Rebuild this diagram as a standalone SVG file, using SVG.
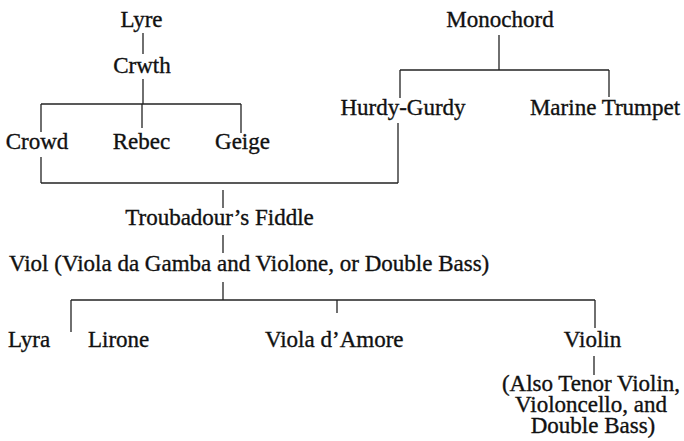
<svg xmlns="http://www.w3.org/2000/svg" width="684" height="441" viewBox="0 0 684 441">
<style>
text{font-family:'Liberation Serif','DejaVu Serif',serif;font-size:23px;fill:#111;stroke:#111;stroke-width:0.35}
.m{text-anchor:middle}
.c line{stroke:#222;stroke-width:1.3;fill:none}
</style>
<rect width="684" height="441" fill="#fff"/>
<g class="c" id="connectors">
<line x1="143" y1="33" x2="143" y2="54"/>
<line x1="143" y1="79" x2="143" y2="104"/>
<line x1="41" y1="104" x2="241" y2="104"/>
<line x1="41" y1="104" x2="41" y2="132"/>
<line x1="142" y1="104" x2="142" y2="128"/>
<line x1="241" y1="104" x2="241" y2="133"/>
<line x1="41" y1="157" x2="41" y2="183"/>
<line x1="41" y1="183" x2="398" y2="183"/>
<line x1="398" y1="123" x2="398" y2="183"/>
<line x1="499" y1="35" x2="499" y2="70"/>
<line x1="400" y1="70" x2="609" y2="70"/>
<line x1="400" y1="70" x2="400" y2="98"/>
<line x1="609" y1="70" x2="609" y2="97"/>
<line x1="223" y1="190" x2="223" y2="208"/>
<line x1="223" y1="235" x2="223" y2="253"/>
<line x1="223" y1="282" x2="223" y2="300"/>
<line x1="71" y1="300" x2="595" y2="300"/>
<line x1="71" y1="300" x2="71" y2="332"/>
<line x1="337" y1="300" x2="337" y2="313"/>
<line x1="595" y1="300" x2="595" y2="328"/>
<line x1="594" y1="356" x2="594" y2="375"/>
</g>
<g id="lyre"><text class="m" x="141.5" y="27">Lyre</text></g>
<g id="crwth"><text class="m" x="142" y="73">Crwth</text></g>
<g id="crowd"><text class="m" x="37" y="149">Crowd</text></g>
<g id="rebec"><text class="m" x="141.5" y="149">Rebec</text></g>
<g id="geige"><text class="m" x="242.5" y="149">Geige</text></g>
<g id="monochord"><text class="m" x="500" y="27">Monochord</text></g>
<g id="hurdy-gurdy"><text class="m" x="403" y="115">Hurdy-Gurdy</text></g>
<g id="marine-trumpet"><text class="m" x="605" y="115">Marine Trumpet</text></g>
<g id="troubadour"><text class="m" x="219.5" y="225">Troubadour’s Fiddle</text></g>
<g id="viol"><text x="9" y="271">Viol (Viola da Gamba and Violone, or Double Bass)</text></g>
<g id="lyra"><text x="8" y="347">Lyra</text></g>
<g id="lirone"><text x="88" y="347">Lirone</text></g>
<g id="viola-damore"><text x="265" y="347">Viola d’Amore</text></g>
<g id="violin"><text class="m" x="592.5" y="347">Violin</text></g>
<g id="violin-family">
<text class="m"><tspan x="591" y="391">(Also Tenor Violin,</tspan><tspan x="591" y="412">Violoncello, and</tspan><tspan x="593" y="433">Double Bass)</tspan></text>
</g>
</svg>
